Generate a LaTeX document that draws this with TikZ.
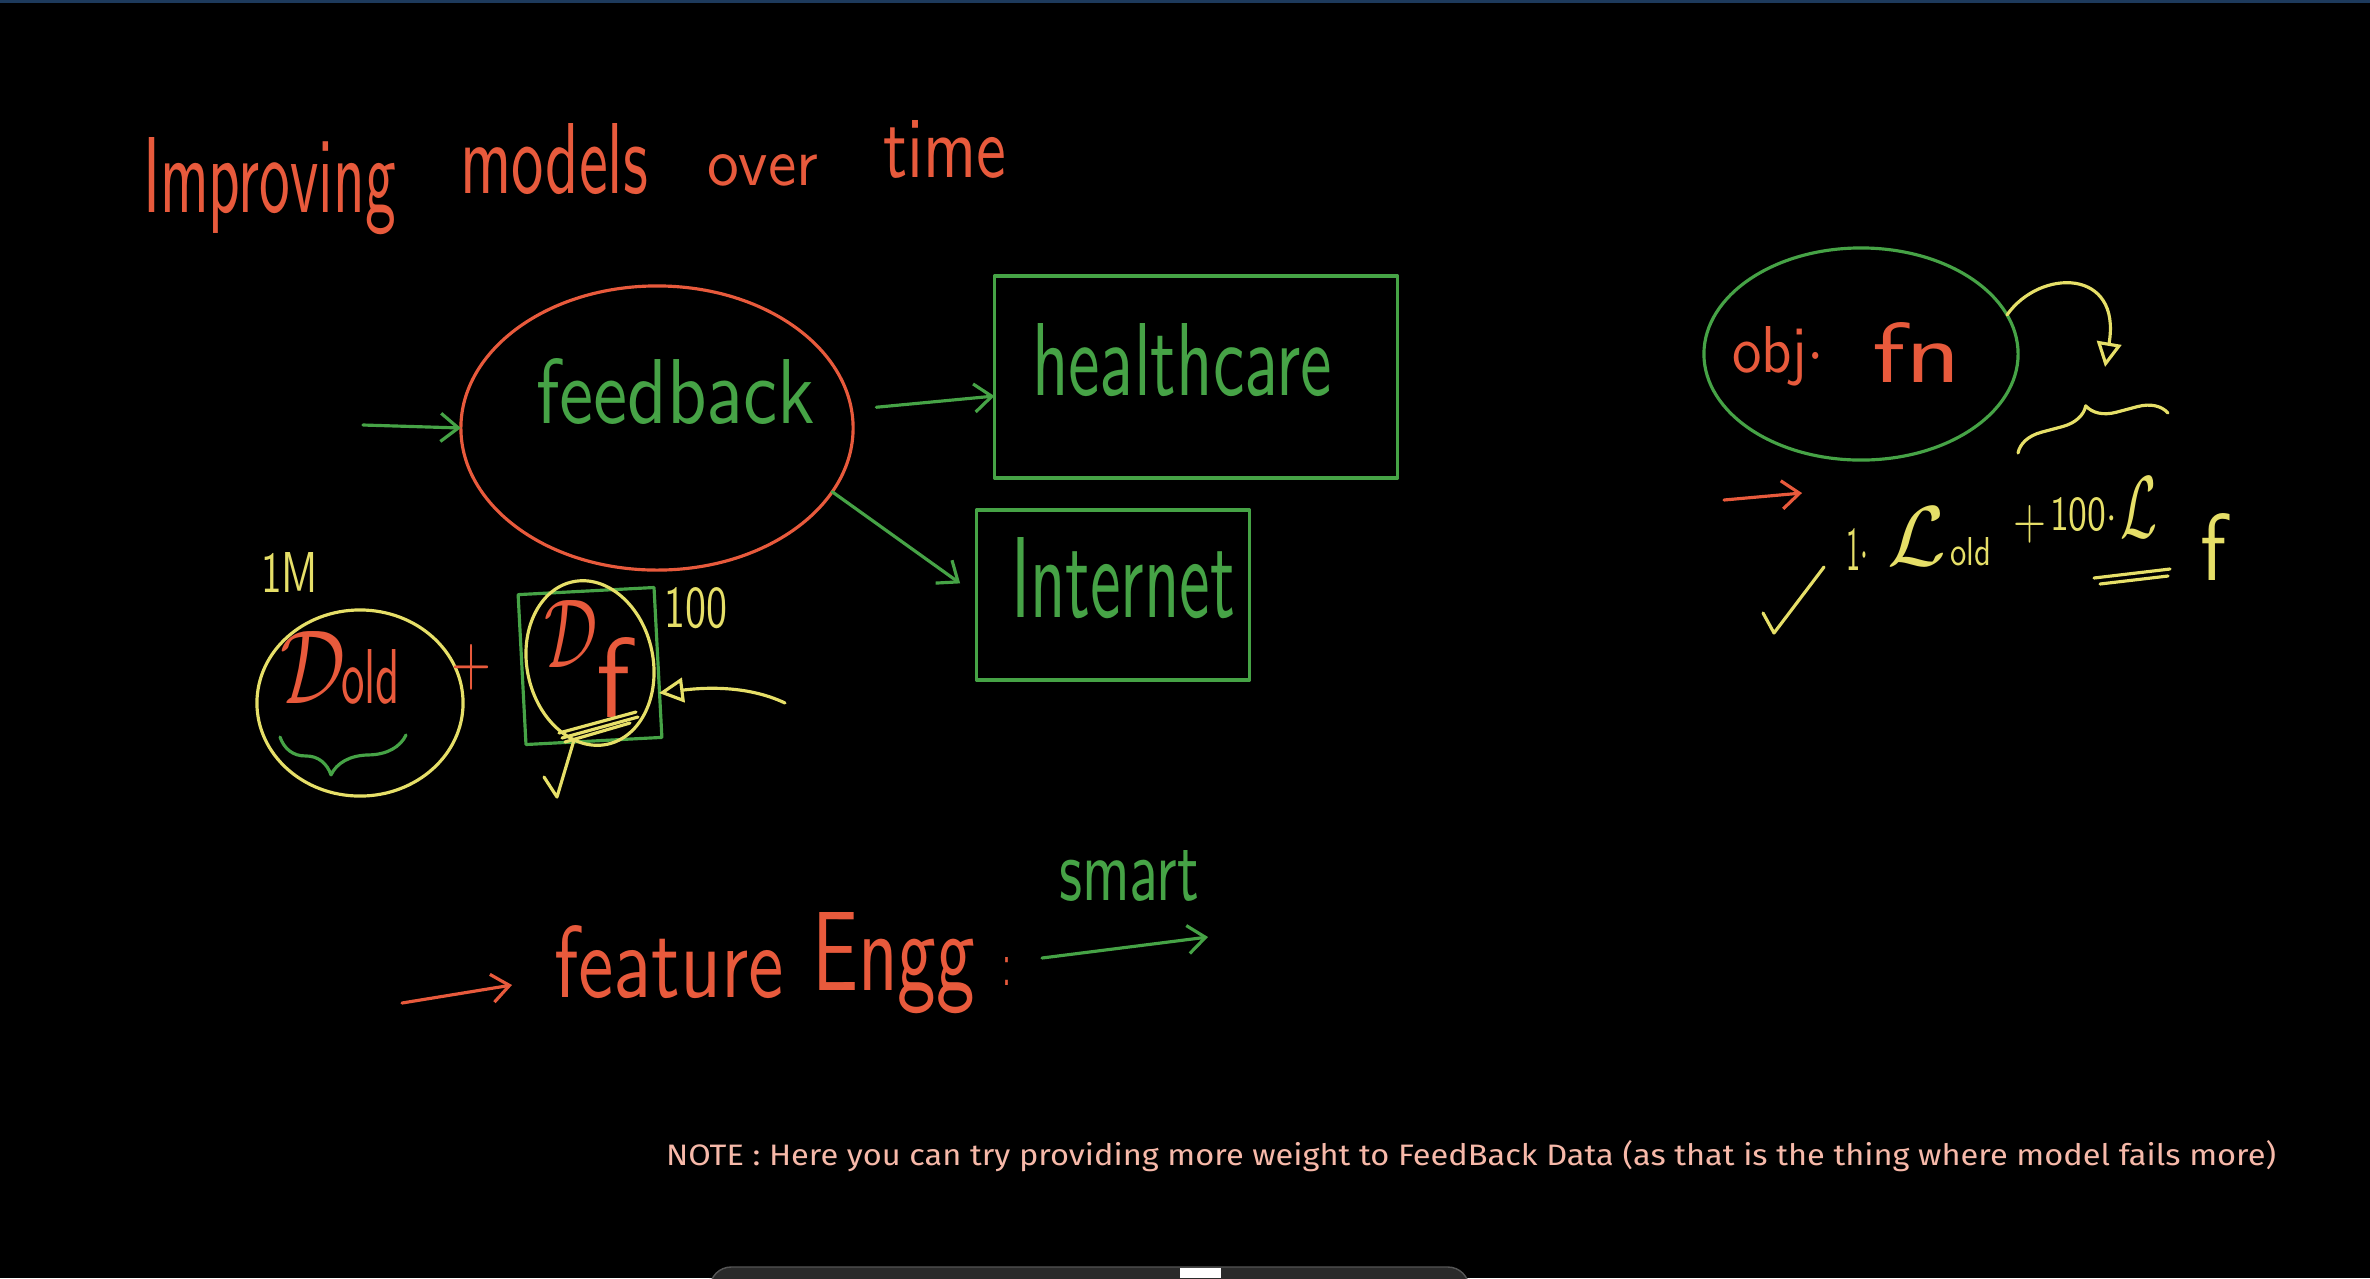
\documentclass[tikz,border=0pt]{standalone}
\usepackage{fontspec}
\newfontfamily\notefont{Fira Sans}
\usetikzlibrary{shapes.geometric,arrows.meta,decorations.pathreplacing,calc}
\newlength\pxu \setlength\pxu{0.01cm}
\newcommand\hw[3]{\resizebox{#1\pxu}{#2\pxu}{#3}}
\definecolor{wred}{HTML}{E85A3C}
\definecolor{wgreen}{HTML}{46A346}
\definecolor{wyel}{HTML}{E6DF68}
\definecolor{wnote}{HTML}{F7B9A9}
\definecolor{topline}{HTML}{1D3A5C}
\definecolor{barfill}{HTML}{2A2A2A}
\definecolor{barline}{HTML}{555555}
\tikzset{
  stroke/.style={line width=0.9pt, line cap=round, line join=round},
  garr/.style={stroke, draw=wgreen, -{Straight Barb[length=5pt,width=8pt]}},
  rarr/.style={stroke, draw=wred, -{Straight Barb[length=5pt,width=8pt]}},
  yarr/.style={stroke, draw=wyel, -{Triangle[open,length=7pt,width=7pt]}},
  word/.style={inner sep=0pt, outer sep=0pt, anchor=base west, font=\sffamily},
  shapebox/.style={stroke, inner sep=0pt, outer sep=0pt},
}
\begin{document}
\begin{tikzpicture}[x=0.01cm,y=-0.01cm]
\fill[black] (0,0) rectangle (2370,1278);
\useasboundingbox (0,0) rectangle (2370,1278);
\fill[topline] (0,0) rectangle (2370,3);

% title
\node[word, text=wred] (t1) at (143,212) {\hw{253}{75}{Improving}};
\node[word, text=wred] (t2) at (460,193) {\hw{188}{70}{models}};
\node[word, text=wred] (t3) at (707,185) {\hw{111}{31}{over}};
\node[word, text=wred] (t4) at (883,177) {\hw{123}{57}{time}};

% feedback
\node[shapebox, draw=wred, ellipse, minimum width=3.92cm, minimum height=2.84cm] (fb) at (657,428) {};
\node[word, text=wgreen] (fbt) at (536,423) {\hw{279}{65}{feedback}};
\coordinate (fbin) at (363,425);
\draw[garr] (fbin) -- (fb.west);

% healthcare
\node[shapebox, draw=wgreen, minimum width=4.03cm, minimum height=2.02cm] (hc) at (1196,377) {};
\node[word, text=wgreen] (hct) at (1032,395) {\hw{300}{72}{healthcare}};
\draw[garr, shorten <=0.25cm] (fb) -- (hc);

% internet
\node[shapebox, draw=wgreen, minimum width=2.73cm, minimum height=1.70cm] (inet) at (1113,595) {};
\node[word, text=wgreen] (inett) at (1011,617) {\hw{224}{80}{Internet}};
\draw[garr, shorten >=0.2cm] (fb.-20) -- (inet.west);

% D old
\node[word, text=wyel] (onem) at (261,592) {\hw{57}{40}{1M}};
\node[shapebox, draw=wyel, ellipse, minimum width=2.06cm, minimum height=1.86cm] (dold) at (360,703) {};
\node[word, text=wred] (doldD) at (280,703) {\hw{65}{72}{$\mathcal{D}$}};
\node[word, text=wred] (doldS) at (341,703) {\hw{59}{54}{old}};
\draw[stroke, draw=wgreen, decorate, decoration={brace, amplitude=11pt, aspect=0.6}] (406,735) -- (280,737);
\node[inner sep=0pt, text=wred, font=\sffamily] (plus) at (471,667) {\hw{40}{40}{+}};

% D f
\node[shapebox, draw=wgreen, minimum width=1.36cm, minimum height=1.50cm, rotate=3] (dfr) at (590,666) {};
\node[shapebox, draw=wyel, ellipse, minimum width=1.26cm, minimum height=1.66cm, rotate=12] (dfe) at (590,663) {};
\node[word, text=wred] (dfD) at (544,667) {\hw{53}{67}{$\mathcal{D}$}};
\node[word, text=wred] (dfS) at (596,717) {\hw{34}{80}{f}};
\draw[stroke, draw=wyel] (559,733) -- (636,712);
\draw[stroke, draw=wyel] (562,738) -- (638,717);
\draw[stroke, draw=wyel] (565,742) -- (630,723);
\draw[stroke, draw=wyel] (544,777) -- (557,797) -- (574,740);
\node[word, text=wyel] (hund) at (664,627) {\hw{63}{40}{100}};
\coordinate (dfin) at (785,703);
\coordinate (dftip) at (659,693);
\draw[yarr] (dfin) .. controls (745,684) and (700,688) .. (dftip);

% obj fn
\node[shapebox, draw=wgreen, ellipse, minimum width=3.14cm, minimum height=2.12cm] (of) at (1861,354) {};
\node[word, text=wred] (oft1) at (1732,372) {\hw{92}{46}{obj$\cdot$}};
\node[word, text=wred] (oft2) at (1872,382) {\hw{89}{60}{fn}};
\coordinate (otip) at (2105,367);
\draw[yarr] (of.15) .. controls (2040,268) and (2122,268) .. (otip);
\draw[stroke, draw=wyel, decorate, decoration={brace, amplitude=8pt}] (2018,453) -- (2168,413);
\coordinate (oin) at (1724,500);
\coordinate (oout) at (1802,493);
\draw[rarr] (oin) -- (oout);

% formula
\node[word, text=wyel] (f1) at (1846,570) {\hw{22}{42}{1$\cdot$}};
\node[word, text=wyel] (fL1) at (1887,565) {\hw{59}{58}{$\mathcal{L}$}};
\node[word, text=wyel] (fold) at (1950,565) {\hw{41}{28}{old}};
\node[inner sep=0pt, text=wyel, font=\sffamily] (fplus) at (2030,524) {\hw{33}{33}{+}};
\node[word, text=wyel] (f100) at (2050,530) {\hw{67}{33}{100$\cdot$}};
\node[word, text=wyel] (fL2) at (2120,537) {\hw{37}{60}{$\mathcal{L}$}};
\node[word, text=wyel] (ff) at (2200,580) {\hw{26}{67}{f}};
\draw[stroke, draw=wyel] (2094,578) -- (2170,569);
\draw[stroke, draw=wyel] (2100,584) -- (2168,576);
\draw[stroke, draw=wyel] (1763,613) -- (1774,633) -- (1824,567);

% feature engg
\coordinate (fein) at (402,1003);
\coordinate (feout) at (512,985);
\draw[rarr] (fein) -- (feout);
\node[word, text=wred] (fe1) at (554,997) {\hw{230}{72}{feature}};
\node[word, text=wred] (fe2) at (812,990) {\hw{163}{78}{Engg}};
\node[word, text=wred] (fe3) at (1002,985) {\hw{9}{28}{:}};
\coordinate (smin) at (1042,958);
\coordinate (smout) at (1208,937);
\draw[garr] (smin) -- (smout);
\node[word, text=wgreen] (smart) at (1059,900) {\hw{140}{50}{smart}};

% note
\node[word, text=wnote, font=\notefont] (note) at (666,1165) {\hw{1610}{25}{NOTE : Here you can try providing more weight to FeedBack Data (as that is the thing where model fails more)}};

% bottom bar
\fill[barfill, draw=barline, rounded corners=6pt] (710,1267) rectangle (1469,1300);
\fill[white] (1180,1268) rectangle (1221,1278);
\end{tikzpicture}
\end{document}
